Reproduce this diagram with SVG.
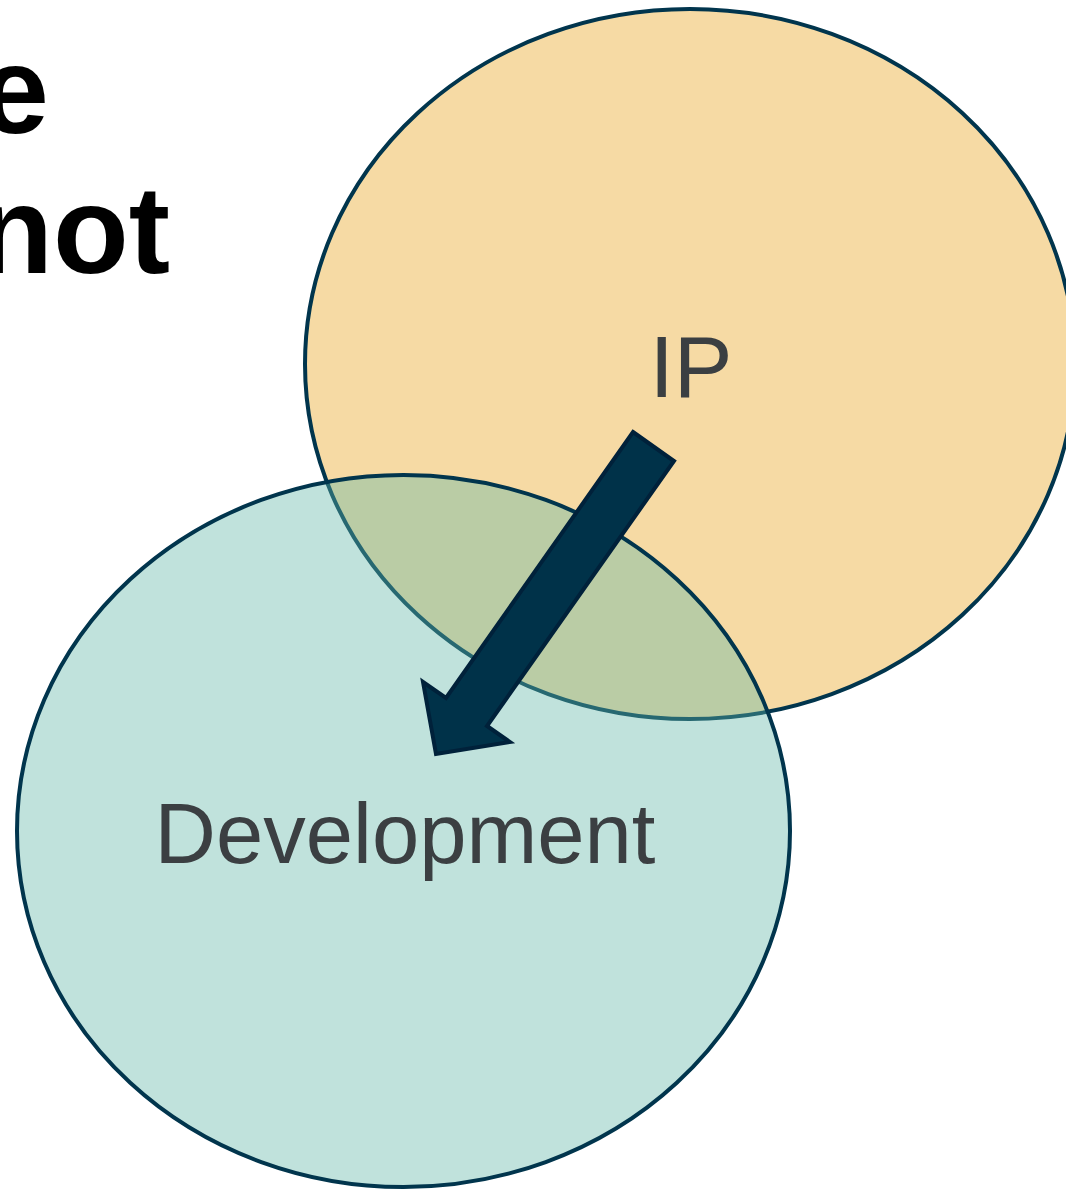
<svg xmlns="http://www.w3.org/2000/svg" width="1066" height="1189" viewBox="0 0 1066 1189">
<style>
.title{font-family:"Liberation Sans",Arial,sans-serif;font-weight:bold;font-size:124px;fill:#000}
.lbl{font-family:"Liberation Sans",Arial,sans-serif;font-size:88px;fill:#3B3F42;text-anchor:middle}
.circ{stroke:#01354D;stroke-width:4}
</style>
<rect width="1066" height="1189" fill="#fff"/>
<g id="title">
<text class="title" x="49" y="133" text-anchor="end">e</text>
<text class="title" x="170" y="273" text-anchor="end">not</text>
</g>
<g id="ip">
<ellipse class="circ" cx="690" cy="364" rx="385" ry="355" fill="#F6DAA4"/>
<text class="lbl" x="691" y="397">IP</text>
</g>
<g id="development">
<ellipse class="circ" cx="403.5" cy="831" rx="386.5" ry="356" fill="rgb(97,182,167)" fill-opacity="0.4"/>
<text class="lbl" x="405" y="863" style="font-size:85px">Development</text>
</g>
<g id="connectors">
<polygon points="633,432 674,461 487,726 510,742 436,754 423,682 446,698" fill="#003249" stroke="#00213A" stroke-width="4" stroke-linejoin="miter"/>
</g>
</svg>
